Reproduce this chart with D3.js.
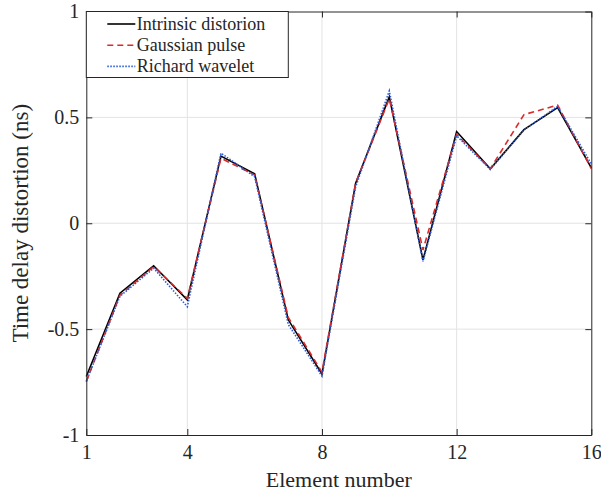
<!DOCTYPE html>
<meta charset="utf-8">

<style>
  body { margin: 0; background: #fff; }
  .chart text { font-family: "Liberation Serif", "Times New Roman", serif; fill: #262626; }
</style>

<svg class="chart"></svg>

<script src="https://d3js.org/d3.v7.min.js"></script>
<script>

  var width  = 601;
  var height = 494;

  var margin = { top: 11.5, right: 9.7, bottom: 59, left: 86.3 };

  // element index along the array
  var elements  = [1, 2, 3, 4, 5, 6, 7, 8, 9, 10, 11, 12, 13, 14, 15, 16];

  // time delay distortion (ns) per element
  var intrinsic = [-0.724, -0.330, -0.201, -0.362, 0.317, 0.234, -0.456, -0.712,
                   0.189, 0.597, -0.173, 0.433, 0.257, 0.442, 0.546, 0.262];
  var gaussian  = [-0.747, -0.340, -0.205, -0.355, 0.307, 0.228, -0.445, -0.703,
                   0.190, 0.588, -0.126, 0.420, 0.257, 0.513, 0.558, 0.258];
  var richard   = [-0.747, -0.345, -0.212, -0.394, 0.331, 0.220, -0.478, -0.722,
                   0.172, 0.625, -0.180, 0.413, 0.254, 0.440, 0.552, 0.280];

  var xTicks = [1, 4, 8, 12, 16];
  var yTicks = [-1, -0.5, 0, 0.5, 1];

  var series = [
    { label: "Intrinsic distorion", values: intrinsic, color: "#000000", dash: null,  width: 1.6 },
    { label: "Gaussian pulse",      values: gaussian,  color: "#d92b2b", dash: "6,4", width: 1.6 },
    { label: "Richard wavelet",     values: richard,   color: "#2a5bd7", dash: "1.5,1.5", width: 1.6 }
  ];

  var chart = d3.select(".chart")
      .attr("width", width)
      .attr("height", height);

  var x = d3.scaleLinear()
      .domain([1, 16])
      .range([margin.left, width - margin.right]);

  var y = d3.scaleLinear()
      .domain([-1, 1])
      .range([height - margin.bottom, margin.top]);

  // grid
  chart.append("g")
    .selectAll("line")
    .data(xTicks.slice(1, -1))
    .enter().append("line")
        .attr("x1", function(d) { return x(d); })
        .attr("x2", function(d) { return x(d); })
        .attr("y1", y(-1))
        .attr("y2", y(1))
        .attr("stroke", "#e3e3e3")
        .attr("stroke-width", 1);

  chart.append("g")
    .selectAll("line")
    .data(yTicks.slice(1, -1))
    .enter().append("line")
        .attr("x1", x(1))
        .attr("x2", x(16))
        .attr("y1", function(d) { return y(d); })
        .attr("y2", function(d) { return y(d); })
        .attr("stroke", "#e3e3e3")
        .attr("stroke-width", 1);

  // lines
  var line = d3.line()
      .x(function(d, i) { return x(elements[i]); })
      .y(function(d) { return y(d); });

  chart.append("g")
    .selectAll("path")
    .data(series)
    .enter().append("path")
        .attr("d", function(s) { return line(s.values); })
        .attr("fill", "none")
        .attr("stroke", function(s) { return s.color; })
        .attr("stroke-width", function(s) { return s.width; })
        .attr("stroke-dasharray", function(s) { return s.dash; })
        .attr("stroke-linejoin", "miter");

  // axes, ticks pointing inward on all four sides
  var tickLen = 6;

  function drawAxis(axis, transform) {
    var g = chart.append("g")
        .attr("transform", transform)
        .call(axis);
    g.select(".domain").attr("stroke", "#262626");
    g.selectAll(".tick line").attr("stroke", "#262626");
    g.selectAll("text")
        .style("font-size", "20px")
        .attr("fill", "#262626");
    return g;
  }

  var fmt = function(d) { return String(d); };

  drawAxis(d3.axisBottom(x).tickValues(xTicks).tickFormat(fmt).tickSizeInner(-tickLen).tickSizeOuter(0).tickPadding(10),
           "translate(0," + y(-1) + ")");
  drawAxis(d3.axisTop(x).tickValues(xTicks).tickFormat("").tickSizeInner(-tickLen).tickSizeOuter(0),
           "translate(0," + y(1) + ")");
  drawAxis(d3.axisLeft(y).tickValues(yTicks).tickFormat(fmt).tickSizeInner(-tickLen).tickSizeOuter(0).tickPadding(7),
           "translate(" + x(1) + ",0)");
  drawAxis(d3.axisRight(y).tickValues(yTicks).tickFormat("").tickSizeInner(-tickLen).tickSizeOuter(0),
           "translate(" + x(16) + ",0)");

  // axis titles
  chart.append("text")
      .attr("x", (x(1) + x(16)) / 2)
      .attr("y", 487)
      .attr("text-anchor", "middle")
      .style("font-size", "22px")
      .text("Element number");

  chart.append("text")
      .attr("transform", "translate(28," + (y(-1) + y(1)) / 2 + ") rotate(-90)")
      .attr("text-anchor", "middle")
      .style("font-size", "23px")
      .text("Time delay distortion (ns)");

  // legend
  var legend = chart.append("g");

  legend.append("rect")
      .attr("x", x(1))
      .attr("y", y(1))
      .attr("width", 202)
      .attr("height", 66)
      .attr("fill", "#fff")
      .attr("stroke", "#262626")
      .attr("stroke-width", 1);

  var rows = legend.selectAll("g.row")
      .data(series)
      .enter().append("g")
          .attr("class", "row")
          .attr("transform", function(s, i) { return "translate(" + x(1) + "," + (y(1) + 12.5 + i * 21.2) + ")"; });

  rows.append("line")
      .attr("x1", 21)
      .attr("x2", 49)
      .attr("stroke", function(s) { return s.color; })
      .attr("stroke-width", function(s) { return s.width; })
      .attr("stroke-dasharray", function(s) { return s.dash; });

  rows.append("text")
      .attr("x", 50.5)
      .attr("dy", "0.33em")
      .style("font-size", "18px")
      .text(function(s) { return s.label; });

</script>
